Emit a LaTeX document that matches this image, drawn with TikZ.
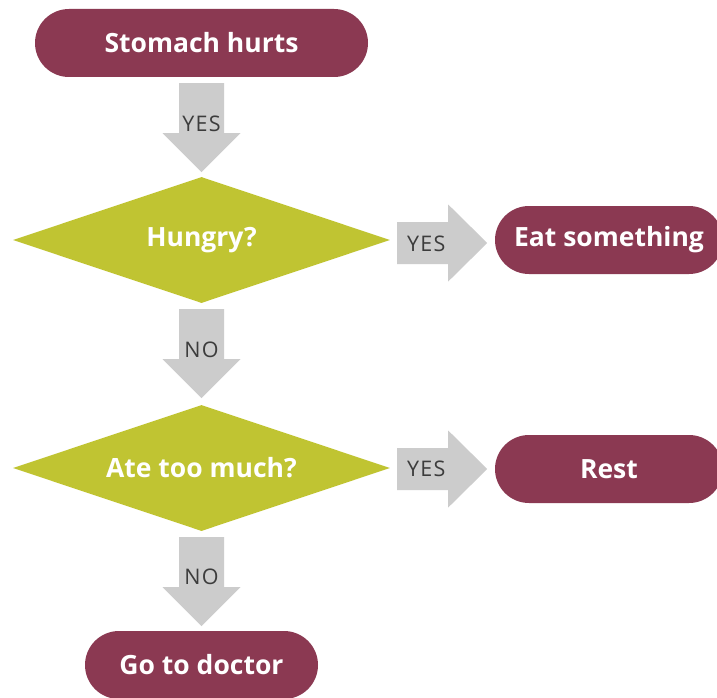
\documentclass[tikz,border=0pt]{standalone}
\usepackage{fontspec}
\setmainfont{Open Sans}
\newfontfamily\labelfont[LetterSpace=6]{Open Sans}
\usetikzlibrary{shapes.geometric,calc}
\definecolor{pillred}{RGB}{139,57,82}
\definecolor{diagreen}{RGB}{192,196,50}
\definecolor{arrowgray}{RGB}{204,204,204}
\definecolor{labelgray}{RGB}{60,60,60}
\begin{document}
\begin{tikzpicture}[x=1pt,y=-1pt,
  pill/.style={fill=pillred, rounded corners=34pt, minimum height=68pt, inner sep=0pt,
    text=white, font=\bfseries\fontsize{26.5}{30}\selectfont},
  decision/.style={diamond, aspect=3, fill=diagreen, minimum width=377pt, minimum height=126pt,
    inner sep=0pt, text=white, font=\bfseries\fontsize{26.5}{30}\selectfont},
  arrowlabel/.style={text=labelgray, font=\labelfont\fontsize{21.5}{24}\selectfont, inner sep=0pt},
  downblock/.pic={\fill[arrowgray] (-22.5,0) -- (22.5,0) -- (22.5,50) -- (39,50) -- (0,89)
      -- (-39,50) -- (-22.5,50) -- cycle;},
  rightblock/.pic={\fill[arrowgray] (0,-21) -- (51,-21) -- (51,-38.5) -- (90,0) -- (51,38.5)
      -- (51,21) -- (0,21) -- cycle;}
]
\useasboundingbox (0,0) rectangle (717,698);
\fill[white] (0,0) rectangle (717,698);

\node[pill, minimum width=333pt] (start) at (201.5,43) {Stomach hurts};
\node[decision] (hungry) at (201.5,240) {Hungry?};
\node[pill, minimum width=228pt] (eat) at (609,240) {Eat something};
\node[decision] (ate) at (201.5,468) {Ate too much?};
\node[pill, minimum width=228pt] (rest) at (609,469) {Rest};
\node[pill, minimum width=233pt] (doctor) at (201.5,665) {Go to doctor};

% block connectors
\pic at ($(start.south)+(0,6)$) {downblock};
\node[arrowlabel] (l1) at ($(start.south)+(0,47)$) {YES};
\pic at ($(hungry.east)+(7,3)$) {rightblock};
\node[arrowlabel] (l2) at ($(hungry.east)+(36,4)$) {YES};
\pic at ($(hungry.south)+(0,6)$) {downblock};
\node[arrowlabel] (l3) at ($(hungry.south)+(0,47)$) {NO};
\pic at ($(ate.east)+(7,1)$) {rightblock};
\node[arrowlabel] (l4) at ($(ate.east)+(36,1)$) {YES};
\pic at ($(ate.south)+(0,6)$) {downblock};
\node[arrowlabel] (l5) at ($(ate.south)+(0,46)$) {NO};
\end{tikzpicture}
\end{document}
